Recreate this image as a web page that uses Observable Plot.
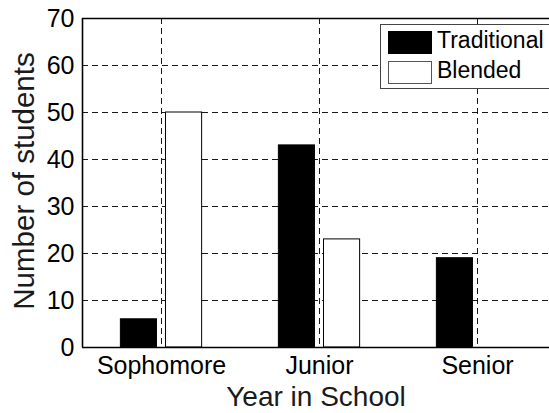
<!DOCTYPE html>
<html>
<head>
<meta charset="utf-8">
<script src="https://cdn.jsdelivr.net/npm/d3@7"></script>
<script src="https://cdn.jsdelivr.net/npm/@observablehq/plot@0.6"></script>
<style>
  html, body { margin: 0; padding: 0; background: #fff; overflow: hidden; }
  #wrap { position: relative; width: 549px; height: 413px; overflow: hidden; }
  .legend { position: absolute; left: 380px; top: 24px; width: 200px; height: 65px;
            border: 1px solid #444; background: #fff; box-sizing: border-box;
            font-family: "Liberation Sans", Arial, sans-serif; font-size: 23px; color: #000; }
  .sw { position: absolute; left: 7px; width: 44px; height: 23px; box-sizing: border-box; }
  .lab { position: absolute; left: 56px; line-height: 23px; }
</style>
</head>
<body>
<div id="wrap"></div>
<script>
// ---- data ----
const years = ["Sophomore", "Junior", "Senior"];
const traditional = [6, 43, 19];
const blended = [50, 23, 0];
const seriesNames = ["Traditional", "Blended"];
const yTicks = [0, 10, 20, 30, 40, 50, 60, 70];
const gridYValues = [10, 20, 30, 40, 50, 60];

// ---- MATLAB grouped-bar layout (in category units) ----
const nSeries = seriesNames.length;
const groupWidth = Math.min(0.8, nSeries / (nSeries + 1.5));
const barWidth = groupWidth / nSeries * 0.8;
const offsets = seriesNames.map((_, k) => -groupWidth / 2 + groupWidth / nSeries * (k + 0.5));

const rows = [];
years.forEach((yr, i) => {
  [traditional, blended].forEach((arr, k) => {
    const c = i + 1 + offsets[k];
    rows.push({year: yr, series: seriesNames[k], value: arr[i], x1: c - barWidth / 2, x2: c + barWidth / 2});
  });
});
const xIdx = years.map((_, i) => i + 1);

const chart = Plot.plot({
  width: 549,
  height: 413,
  marginLeft: 82,
  marginTop: 18,
  marginBottom: 66,
  marginRight: 0,
  style: {fontFamily: "'Liberation Sans', Arial, sans-serif", fontSize: "25px", color: "#000", background: "#fff"},
  x: {type: "linear", domain: [0.5, 3.5], range: [82, 556]},
  y: {domain: [0, 70]},
  marks: [
    Plot.gridY(gridYValues, {stroke: "#000", strokeOpacity: 0.9, strokeDasharray: "6,4"}),
    Plot.gridX(xIdx, {stroke: "#000", strokeOpacity: 0.9, strokeDasharray: "6,4"}),
    Plot.rectY(rows, {
      x1: "x1", x2: "x2", y1: 0, y2: "value",
      fill: d => d.series === "Traditional" ? "#000" : "#fff",
      stroke: "#000", strokeWidth: 1
    }),
    Plot.ruleY([0, 70], {stroke: "#000", strokeWidth: 1.6}),
    Plot.ruleX([0.5], {stroke: "#000", strokeWidth: 1.6}),
    Plot.axisY({ticks: yTicks, tickSize: 0, tickPadding: 8, label: null, fontSize: 25}),
    Plot.axisX({ticks: xIdx, tickFormat: i => years[i - 1], tickSize: 0, tickPadding: 9, label: null, fontSize: 25}),
    Plot.text(["Year in School"], {frameAnchor: "bottom", textAnchor: "middle", dy: 58, lineAnchor: "bottom", fontSize: 28, fill: "#1a1a1a"}),
    Plot.text(["Number of students"], {frameAnchor: "left", textAnchor: "middle", rotate: -90, dx: -49, dy: -2, lineAnchor: "bottom", fontSize: 29.5, fill: "#1a1a1a"})
  ]
});

const wrap = document.getElementById("wrap");
wrap.appendChild(chart);

// legend overlay
const legend = document.createElement("div");
legend.className = "legend";
const fills = ["#000", "#fff"];
seriesNames.forEach((name, k) => {
  const sw = document.createElement("div");
  sw.className = "sw";
  sw.style.top = (6 + k * 30) + "px";
  sw.style.background = fills[k];
  sw.style.border = "1px solid " + (k === 0 ? "#000" : "#555");
  legend.appendChild(sw);
  const lab = document.createElement("div");
  lab.className = "lab";
  lab.style.top = (4 + k * 30) + "px";
  lab.textContent = name;
  legend.appendChild(lab);
});
wrap.appendChild(legend);
</script>
</body>
</html>
